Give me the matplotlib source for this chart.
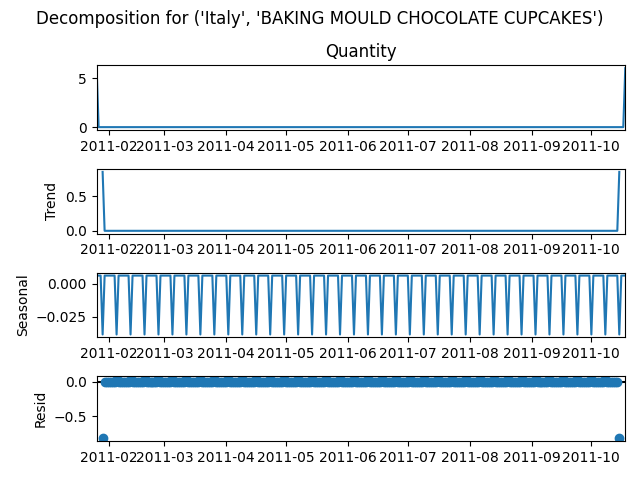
import numpy as np
import pandas as pd
import matplotlib
matplotlib.use("Agg")
import matplotlib.pyplot as plt

# daglig serie, första och sista dag med försäljning
start_datum = "2011-01-26"
slut_datum = "2011-10-18"
period = 7

kvantitet_topp = 6.0          # Quantity första och sista dagen
trend_topp = 0.857            # trend vid index 3 och n-4
säsong_mönster = [0.0064, 0.0064, 0.0064, -0.0387, 0.0064, 0.0064, 0.0064]
resid_mönster = [-0.0064, -0.0064, -0.0064, 0.0387, -0.0064, -0.0064, -0.0064]
resid_kant = -0.818           # resid vid index 3 och n-4

titel = "Decomposition for ('Italy', 'BAKING MOULD CHOCOLATE CUPCAKES')"

datum = pd.date_range(start_datum, slut_datum, freq="D")
n = len(datum)
halv = period // 2

kvantitet = np.zeros(n)
kvantitet[0] = kvantitet_topp
kvantitet[-1] = kvantitet_topp

trend = np.full(n, np.nan)
trend[halv:n - halv] = 0.0
trend[halv] = trend_topp
trend[n - halv - 1] = trend_topp

säsong = np.resize(säsong_mönster, n)

resid = np.full(n, np.nan)
resid[halv:n - halv] = np.resize(resid_mönster, n)[halv:n - halv]
resid[halv] = resid_kant
resid[n - halv - 1] = resid_kant

serier = {
    "Quantity": pd.Series(kvantitet, index=datum),
    "Trend": pd.Series(trend, index=datum),
    "Seasonal": pd.Series(säsong, index=datum),
    "Resid": pd.Series(resid, index=datum),
}

fig, axes = plt.subplots(4, 1, figsize=(6.4, 4.8), dpi=100)
xlim = (datum[0], datum[-1])
for ax, (namn, s) in zip(axes, serier.items()):
    if namn == "Resid":
        ax.plot(s, marker="o", linestyle="none")
        ax.plot(xlim, (0, 0), color="#000000", zorder=-3)
    else:
        ax.plot(s)
    if namn == "Quantity":
        ax.set_title(namn)
    else:
        ax.set_ylabel(namn)
    ax.set_xlim(xlim)

fig.suptitle(titel)
fig.subplots_adjust(left=0.151, right=0.977, top=0.864, bottom=0.081, hspace=0.6)
fig.savefig("out.png")
